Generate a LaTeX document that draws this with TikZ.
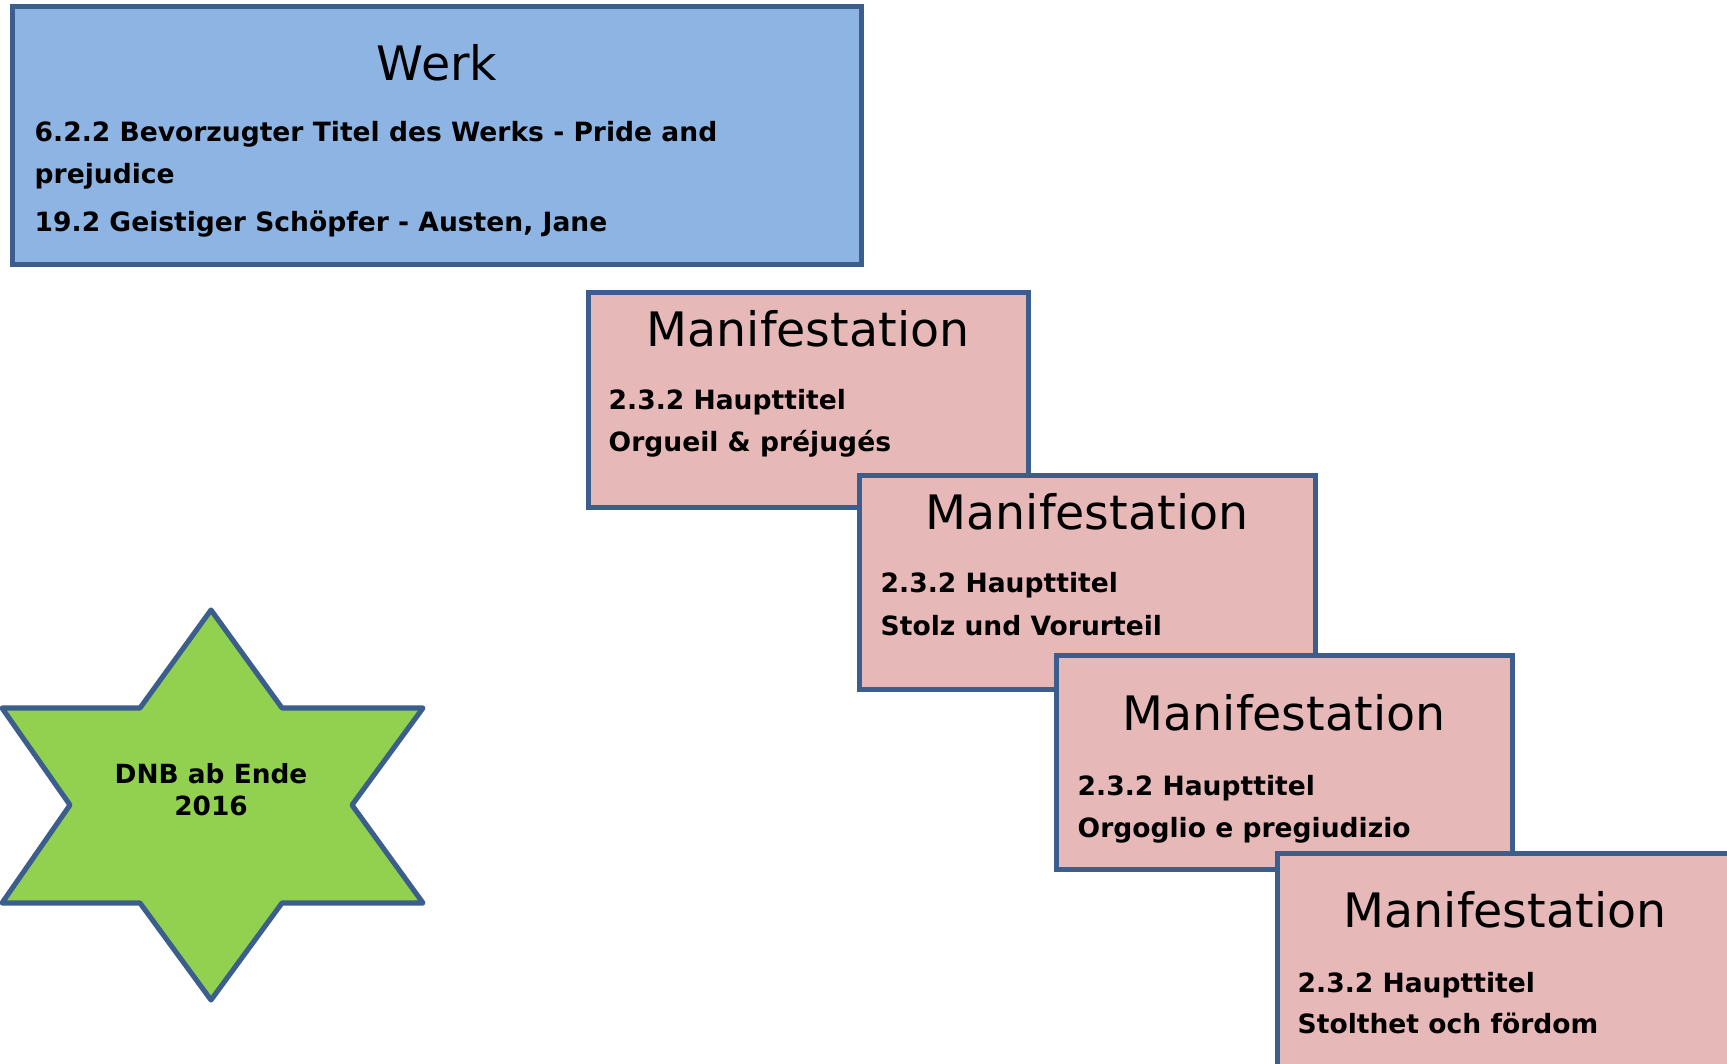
\documentclass[tikz,border=0pt]{standalone}
\usepackage{fontspec}
\setmainfont{DejaVu Sans}
\definecolor{werkblau}{HTML}{8EB4E3}
\definecolor{manirosa}{HTML}{E6B9B8}
\definecolor{sterngruen}{HTML}{92D050}
\definecolor{rahmen}{HTML}{3B5E8C}

\begin{document}
\begin{tikzpicture}[x=0.01cm,y=-0.01cm,
    kasten/.style={draw=rahmen, line width=1.45pt, inner sep=0pt},
    kopf/.style={font=\fontsize{13.5}{16}\selectfont, inner sep=0pt},
    eintrag/.style={font=\fontsize{7.55}{11.95}\selectfont\bfseries, anchor=base west, inner sep=0pt}]
    \useasboundingbox (0,0) rectangle (1727,1064);
    \clip (0,0) rectangle (1727,1064);
    % Werk
    \node[kasten, fill=werkblau, minimum width=8.48cm, minimum height=2.57cm] at (437,135.5) (werk) {};
    \node[kopf] at (437,63) (werkkopf) {Werk};
    \node[eintrag] at (34,142) (werka) {6.2.2 Bevorzugter Titel des Werks - Pride and};
    \node[eintrag] at (34,184) (werkb) {prejudice};
    \node[eintrag] at (34,232) (werkc) {19.2 Geistiger Schöpfer - Austen, Jane};
    % Manifestationen
    \node[kasten, fill=manirosa, minimum width=4.39cm, minimum height=2.14cm] at (808.5,400) (mani1) {};
    \node[kopf] at (808,329) (mani1kopf) {Manifestation};
    \node[eintrag] at (608,410) (mani1a) {2.3.2 Haupttitel};
    \node[eintrag] at (608,452) (mani1b) {Orgueil \& préjugés};
    \node[kasten, fill=manirosa, minimum width=4.55cm, minimum height=2.13cm] at (1087.5,582.5) (mani2) {};
    \node[kopf] at (1087,512) (mani2kopf) {Manifestation};
    \node[eintrag] at (880,593) (mani2a) {2.3.2 Haupttitel};
    \node[eintrag] at (880,635) (mani2b) {Stolz und Vorurteil};
    \node[kasten, fill=manirosa, minimum width=4.55cm, minimum height=2.13cm] at (1284.5,762.5) (mani3) {};
    \node[kopf] at (1284,713) (mani3kopf) {Manifestation};
    \node[eintrag] at (1077,795) (mani3a) {2.3.2 Haupttitel};
    \node[eintrag] at (1077,837) (mani3b) {Orgoglio e pregiudizio};
    \node[kasten, fill=manirosa, minimum width=4.55cm, minimum height=2.13cm] at (1505.5,960.5) (mani4) {};
    \node[kopf] at (1505,910) (mani4kopf) {Manifestation};
    \node[eintrag] at (1297,992) (mani4a) {2.3.2 Haupttitel};
    \node[eintrag] at (1297,1033) (mani4b) {Stolthet och fördom};
    % Stern
    \draw[draw=rahmen, fill=sterngruen, line width=1.45pt, line join=round]
        (211,610) -- (282,708) -- (423,708) -- (352,805) -- (423,903) -- (282,903)
        -- (211,1000) -- (140,903) -- (2,903) -- (70,805) -- (2,708) -- (140,708) -- cycle;
    \node[font=\fontsize{7.5}{9.1}\selectfont\bfseries, align=center, inner sep=0pt] at (211,790) (stern) {DNB ab Ende\\2016};
\end{tikzpicture}
\end{document}
